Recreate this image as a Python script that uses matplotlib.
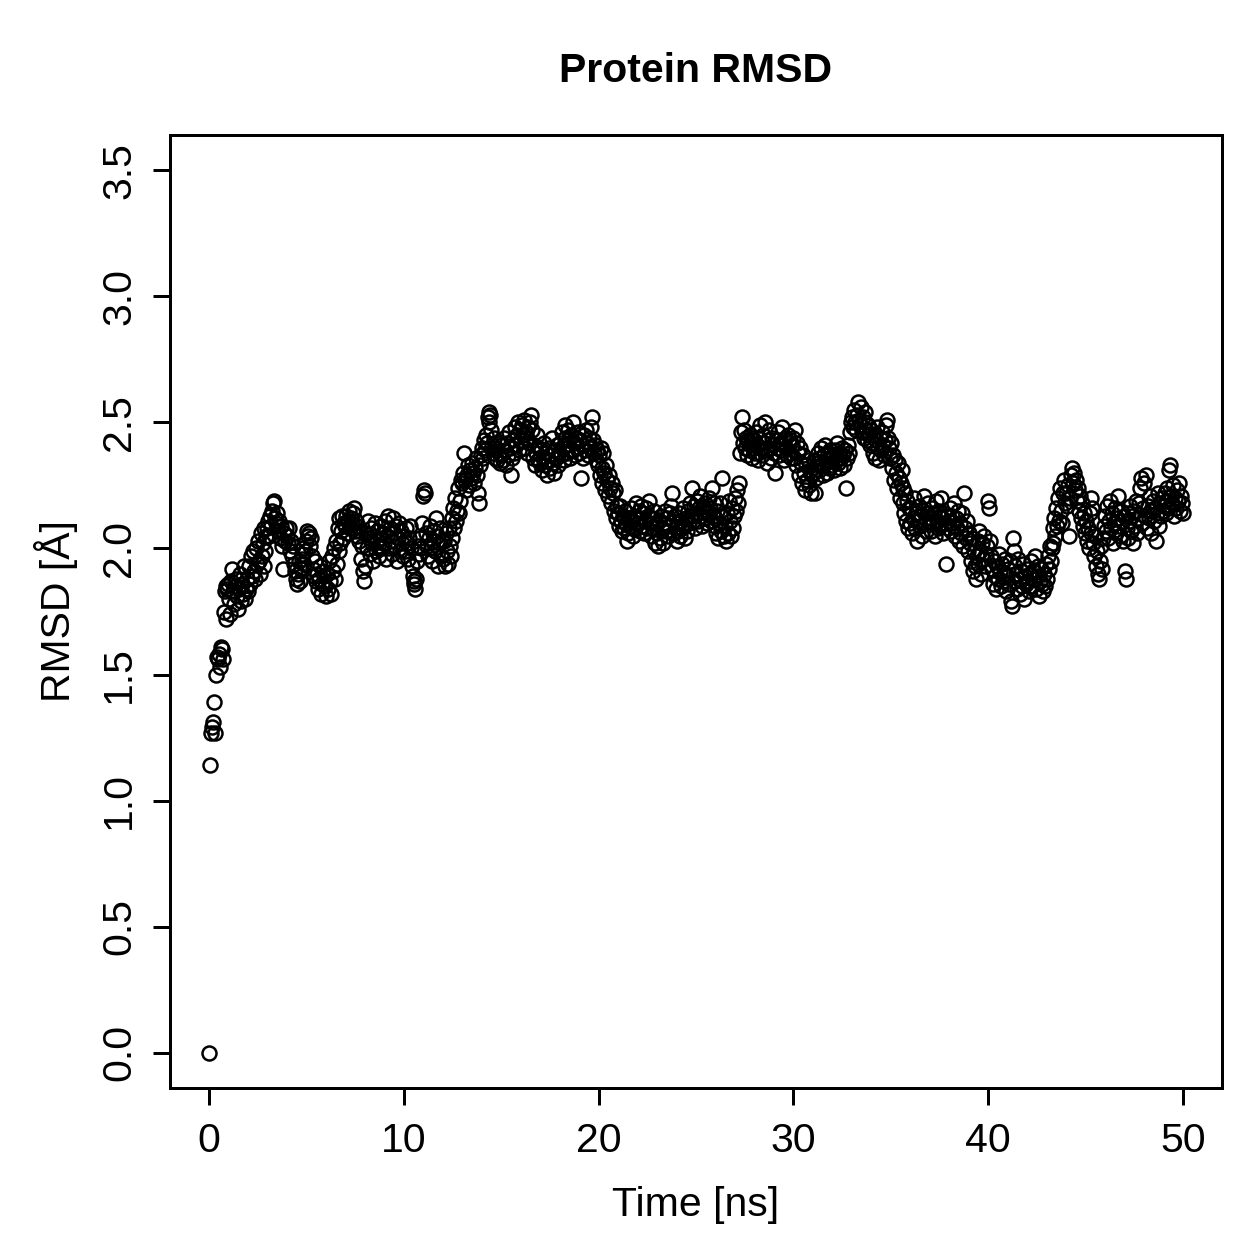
import numpy as np
import matplotlib
matplotlib.use("Agg")
import matplotlib.pyplot as plt

plt.rcParams["font.family"] = ["Liberation Sans", "DejaVu Sans"]

rmsd_rows = [
    [0.00, 1.14, 1.27, 1.29, 1.31, 1.39, 1.27, 1.50, 1.57, 1.56, 1.58, 1.53, 1.61, 1.60, 1.56, 1.75, 1.83, 1.72, 1.85, 1.84],
    [1.86, 1.80, 1.74, 1.87, 1.92, 1.83, 1.78, 1.85, 1.88, 1.81, 1.76, 1.84, 1.90, 1.79, 1.86, 1.82, 1.93, 1.80, 1.84, 1.88],
    [1.83, 1.93, 1.86, 1.97, 1.89, 1.99, 1.91, 1.88, 2.00, 1.94, 2.03, 1.95, 1.90, 2.06, 1.97, 2.02, 1.93, 2.08, 1.99, 2.05],
    [2.08, 2.11, 2.05, 2.13, 2.09, 2.15, 2.18, 2.19, 2.12, 2.10, 2.14, 2.07, 2.11, 2.04, 2.09, 2.01, 1.92, 2.06, 2.03, 2.08],
    [2.05, 2.02, 2.08, 1.99, 2.03, 1.97, 2.01, 1.94, 1.91, 1.88, 1.86, 1.90, 1.95, 1.87, 1.92, 1.98, 1.96, 2.00, 1.94, 1.99],
    [2.03, 2.07, 2.05, 2.06, 2.01, 2.04, 1.97, 1.92, 1.89, 1.95, 1.87, 1.90, 1.84, 1.88, 1.93, 1.82, 1.86, 1.91, 1.89, 1.85],
    [1.81, 1.90, 1.84, 1.95, 1.87, 1.82, 1.97, 1.91, 2.00, 1.88, 2.03, 1.94, 2.08, 1.99, 2.12, 2.02, 2.07, 2.13, 2.04, 2.10],
    [2.09, 2.13, 2.06, 2.11, 2.15, 2.08, 2.12, 2.10, 2.14, 2.16, 2.07, 2.11, 2.05, 2.09, 2.03, 2.07, 1.96, 2.01, 1.91, 1.87],
    [1.93, 2.06, 2.00, 2.11, 2.04, 1.98, 2.08, 2.02, 1.95, 2.05, 2.10, 1.99, 2.03, 2.07, 2.01, 1.97, 2.04, 2.09, 2.00, 2.06],
    [2.02, 2.11, 1.96, 2.05, 2.13, 2.00, 2.08, 2.03, 1.98, 2.12, 2.06, 2.01, 2.09, 1.95, 2.04, 2.10, 1.99, 2.07, 2.02, 1.97],
    [2.05, 1.99, 2.08, 2.02, 1.96, 2.04, 2.09, 2.00, 1.93, 1.89, 1.87, 1.86, 1.84, 1.88, 1.95, 2.01, 1.98, 2.04, 2.00, 2.10],
    [2.21, 2.23, 2.22, 2.06, 2.01, 1.97, 2.04, 2.09, 2.00, 1.95, 2.03, 2.07, 1.99, 2.12, 2.05, 1.93, 2.02, 2.08, 1.97, 2.03],
    [1.96, 2.03, 1.93, 2.06, 1.99, 1.94, 2.08, 2.01, 1.97, 2.12, 2.04, 2.16, 2.08, 2.20, 2.11, 2.15, 2.24, 2.14, 2.19, 2.27],
    [2.26, 2.30, 2.38, 2.27, 2.23, 2.29, 2.33, 2.25, 2.31, 2.28, 2.34, 2.30, 2.26, 2.32, 2.36, 2.29, 2.22, 2.18, 2.33, 2.37],
    [2.40, 2.36, 2.43, 2.39, 2.45, 2.42, 2.52, 2.54, 2.50, 2.53, 2.47, 2.41, 2.38, 2.44, 2.36, 2.40, 2.35, 2.42, 2.38, 2.34],
    [2.37, 2.41, 2.35, 2.44, 2.39, 2.33, 2.42, 2.37, 2.46, 2.40, 2.29, 2.36, 2.43, 2.38, 2.48, 2.41, 2.45, 2.50, 2.39, 2.47],
    [2.43, 2.49, 2.45, 2.51, 2.40, 2.46, 2.38, 2.44, 2.48, 2.42, 2.50, 2.53, 2.47, 2.36, 2.41, 2.33, 2.38, 2.45, 2.35, 2.40],
    [2.34, 2.39, 2.31, 2.36, 2.42, 2.33, 2.38, 2.29, 2.35, 2.40, 2.32, 2.37, 2.44, 2.34, 2.30, 2.39, 2.36, 2.41, 2.33, 2.38],
    [2.42, 2.37, 2.46, 2.40, 2.35, 2.44, 2.49, 2.41, 2.38, 2.47, 2.43, 2.36, 2.45, 2.39, 2.50, 2.42, 2.37, 2.44, 2.40, 2.46],
    [2.38, 2.43, 2.28, 2.41, 2.36, 2.45, 2.39, 2.47, 2.42, 2.37, 2.44, 2.40, 2.48, 2.52, 2.43, 2.38, 2.41, 2.35, 2.39, 2.33],
    [2.37, 2.29, 2.40, 2.32, 2.26, 2.38, 2.30, 2.23, 2.33, 2.27, 2.21, 2.29, 2.24, 2.18, 2.26, 2.22, 2.15, 2.23, 2.12, 2.17],
    [2.14, 2.09, 2.17, 2.11, 2.07, 2.13, 2.08, 2.15, 2.10, 2.03, 2.06, 2.12, 2.09, 2.16, 2.11, 2.05, 2.13, 2.08, 2.18, 2.12],
    [2.10, 2.15, 2.07, 2.12, 2.17, 2.09, 2.14, 2.06, 2.11, 2.16, 2.08, 2.13, 2.19, 2.10, 2.05, 2.12, 2.08, 2.15, 2.02, 2.10],
    [2.06, 2.01, 2.11, 2.04, 2.13, 2.08, 2.02, 2.10, 2.15, 2.07, 2.12, 2.05, 2.09, 2.14, 2.17, 2.22, 2.11, 2.06, 2.13, 2.08],
    [2.03, 2.10, 2.07, 2.14, 2.05, 2.11, 2.08, 2.16, 2.09, 2.04, 2.12, 2.07, 2.15, 2.10, 2.18, 2.13, 2.24, 2.11, 2.17, 2.08],
    [2.14, 2.19, 2.11, 2.16, 2.21, 2.13, 2.09, 2.17, 2.12, 2.18, 2.15, 2.10, 2.14, 2.20, 2.16, 2.11, 2.24, 2.13, 2.18, 2.09],
    [2.12, 2.06, 2.15, 2.04, 2.10, 2.18, 2.07, 2.28, 2.13, 2.05, 2.09, 2.03, 2.14, 2.06, 2.19, 2.11, 2.05, 2.16, 2.08, 2.13],
    [2.20, 2.15, 2.23, 2.18, 2.26, 2.38, 2.46, 2.52, 2.42, 2.47, 2.40, 2.44, 2.37, 2.43, 2.39, 2.45, 2.41, 2.36, 2.44, 2.40],
    [2.43, 2.38, 2.46, 2.41, 2.35, 2.44, 2.49, 2.40, 2.37, 2.45, 2.42, 2.50, 2.39, 2.34, 2.43, 2.47, 2.40, 2.36, 2.44, 2.41],
    [2.38, 2.30, 2.43, 2.40, 2.46, 2.37, 2.42, 2.39, 2.48, 2.41, 2.35, 2.44, 2.40, 2.37, 2.45, 2.42, 2.38, 2.43, 2.36, 2.41],
    [2.44, 2.36, 2.47, 2.33, 2.42, 2.38, 2.29, 2.40, 2.34, 2.26, 2.37, 2.30, 2.23, 2.33, 2.27, 2.35, 2.25, 2.31, 2.22, 2.29],
    [2.30, 2.35, 2.22, 2.28, 2.34, 2.38, 2.31, 2.36, 2.40, 2.33, 2.29, 2.37, 2.41, 2.34, 2.30, 2.38, 2.35, 2.32, 2.39, 2.36],
    [2.33, 2.37, 2.31, 2.39, 2.35, 2.42, 2.34, 2.38, 2.32, 2.36, 2.40, 2.37, 2.33, 2.39, 2.24, 2.36, 2.41, 2.38, 2.46, 2.50],
    [2.52, 2.48, 2.55, 2.50, 2.47, 2.53, 2.58, 2.51, 2.49, 2.56, 2.46, 2.52, 2.44, 2.50, 2.54, 2.47, 2.43, 2.49, 2.45, 2.41],
    [2.47, 2.42, 2.38, 2.45, 2.36, 2.43, 2.48, 2.40, 2.35, 2.44, 2.39, 2.46, 2.41, 2.37, 2.43, 2.49, 2.51, 2.44, 2.40, 2.36],
    [2.42, 2.32, 2.37, 2.27, 2.35, 2.30, 2.24, 2.34, 2.28, 2.20, 2.26, 2.31, 2.18, 2.24, 2.14, 2.22, 2.11, 2.19, 2.08, 2.16],
    [2.10, 2.16, 2.06, 2.12, 2.20, 2.08, 2.14, 2.03, 2.11, 2.17, 2.09, 2.13, 2.05, 2.15, 2.21, 2.10, 2.07, 2.14, 2.18, 2.11],
    [2.12, 2.07, 2.16, 2.10, 2.14, 2.05, 2.19, 2.11, 2.08, 2.15, 2.13, 2.09, 2.20, 2.12, 2.06, 2.14, 2.10, 1.94, 2.13, 2.08],
    [2.11, 2.16, 2.07, 2.13, 2.09, 2.18, 2.05, 2.12, 2.08, 2.15, 2.03, 2.10, 2.06, 2.14, 2.01, 2.22, 2.08, 2.04, 2.11, 1.99],
    [2.06, 2.02, 1.95, 2.04, 1.91, 1.99, 1.93, 1.88, 1.97, 2.03, 1.94, 2.07, 1.99, 1.90, 2.02, 1.96, 2.05, 1.93, 1.98, 2.01],
    [2.19, 2.16, 2.03, 1.97, 1.92, 1.86, 1.95, 1.89, 1.84, 1.93, 1.88, 1.98, 1.91, 1.85, 1.94, 1.87, 1.90, 1.96, 1.83, 1.89],
    [1.92, 1.86, 1.95, 1.79, 1.77, 2.04, 1.99, 1.93, 1.87, 1.90, 1.84, 1.96, 1.88, 1.82, 1.91, 1.85, 1.94, 1.80, 1.89, 1.86],
    [1.92, 1.87, 1.83, 1.90, 1.95, 1.85, 1.91, 1.88, 1.97, 1.84, 1.89, 1.93, 1.81, 1.87, 1.92, 1.86, 1.83, 1.90, 1.85, 1.94],
    [1.88, 1.97, 1.92, 2.01, 1.95, 2.00, 2.08, 2.02, 2.12, 2.05, 2.16, 2.09, 2.20, 2.11, 2.24, 2.15, 2.10, 2.22, 2.27, 2.18],
    [2.22, 2.17, 2.25, 2.05, 2.20, 2.29, 2.32, 2.26, 2.30, 2.23, 2.27, 2.19, 2.24, 2.15, 2.21, 2.12, 2.18, 2.09, 2.14, 2.06],
    [2.11, 2.03, 2.08, 2.00, 2.14, 2.06, 2.20, 2.16, 2.02, 1.97, 2.05, 1.93, 1.99, 1.90, 1.88, 1.95, 2.01, 1.92, 2.04, 2.09],
    [2.13, 2.07, 2.17, 2.04, 2.11, 2.19, 2.08, 2.14, 2.02, 2.10, 2.16, 2.06, 2.12, 2.21, 2.09, 2.05, 2.15, 2.11, 2.03, 2.13],
    [1.91, 1.88, 2.08, 2.14, 2.04, 2.11, 2.17, 2.07, 2.13, 2.02, 2.15, 2.09, 2.19, 2.06, 2.12, 2.18, 2.24, 2.28, 2.10, 2.16],
    [2.26, 2.13, 2.29, 2.08, 2.17, 2.12, 2.21, 2.06, 2.15, 2.19, 2.11, 2.16, 2.03, 2.14, 2.22, 2.09, 2.18, 2.13, 2.20, 2.15],
    [2.17, 2.22, 2.14, 2.19, 2.24, 2.16, 2.31, 2.33, 2.21, 2.18, 2.25, 2.13, 2.20, 2.16, 2.23, 2.19, 2.26, 2.15, 2.21, 2.18],
    [2.14],
]
rmsd = np.concatenate([np.array(r) for r in rmsd_rows])
time_ns = np.arange(len(rmsd)) * 0.05

x_ticks = [0, 10, 20, 30, 40, 50]
y_ticks = [0.0, 0.5, 1.0, 1.5, 2.0, 2.5, 3.0, 3.5]

# ── figure 1259 x 1259 ────────────────────────────────────────────
DPI = 180
fig = plt.figure(figsize=(1259 / DPI, 1259 / DPI), dpi=DPI, facecolor="white")
ax = fig.add_axes([170 / 1259, 1 - 1088 / 1259, (1222 - 170) / 1259, (1088 - 135) / 1259])

ax.plot(time_ns, rmsd, linestyle="none", marker="o", ms=5.6,
        mfc="none", mec="black", mew=1.0)

ax.set_xlim(-2, 52)
ax.set_ylim(-0.14, 3.64)

for s in ax.spines.values():
    s.set_linewidth(1.2)

ax.set_xticks(x_ticks)
ax.set_xticklabels([str(v) for v in x_ticks])
ax.set_yticks(y_ticks)
ax.set_yticklabels([f"{v:.1f}" for v in y_ticks], rotation=90, va="center")
ax.tick_params(direction="out", length=6.8, width=1.2, pad=7, labelsize=16.4)
ax.tick_params(axis="y", pad=6)

ax.set_title("Protein RMSD", fontsize=16.4, fontweight="bold", pad=21)
ax.set_xlabel("Time [ns]", fontsize=16.4, labelpad=10)
ax.set_ylabel("RMSD [Å]", fontsize=16.4, labelpad=9)

fig.savefig("out.png", dpi=DPI, facecolor="white")
